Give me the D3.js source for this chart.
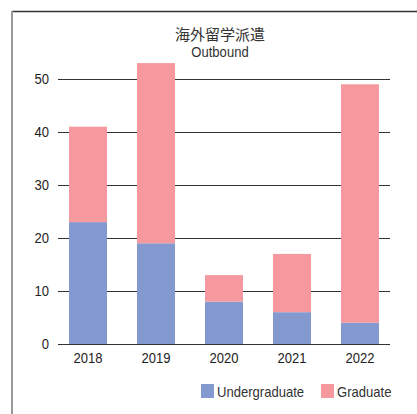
<!DOCTYPE html>
<html>
<head>
<meta charset="utf-8">
<script src="https://cdn.jsdelivr.net/npm/d3@7"></script>
<style>
  body { margin: 0; background: #fff; }
  svg text { font-family: "Liberation Sans", Arial, sans-serif; fill: #222; }
</style>
</head>
<body>
<div class="viz"></div>
<script>
const years = ["2018", "2019", "2020", "2021", "2022"];
const undergraduate = [23, 19, 8, 6, 4];
const graduate = [18, 34, 5, 11, 45];
const seriesNames = ["Undergraduate", "Graduate"];
const yTicks = [0, 10, 20, 30, 40, 50];
const colors = ["#8499cf", "#f5999e"];

const width = 417, height = 414;
const plotLeft = 58, plotRight = 390, plotTop = 79, plotBottom = 344;

const svg = d3.select(".viz").append("svg").attr("width", width).attr("height", height);

// frame
svg.append("line").attr("x1", 12).attr("x2", width).attr("y1", 11.5).attr("y2", 11.5)
  .attr("stroke", "#333").attr("stroke-width", 1.5);
svg.append("line").attr("x1", 12).attr("x2", 12).attr("y1", 11).attr("y2", height)
  .attr("stroke", "#999").attr("stroke-width", 2);

// title
svg.append("text").attr("x", 220).attr("y", 40).attr("text-anchor", "middle")
  .style("font-family", "'Noto Sans CJK JP', sans-serif").style("font-size", "15px").style("fill", "#333")
  .text("海外留学派遣");
svg.append("text").attr("class", "cond").attr("x", 220).attr("y", 57).attr("text-anchor", "middle")
  .style("font-size", "15px").style("fill", "#333")
  .text("Outbound");

const x = d3.scaleBand().domain(years).range([plotLeft, plotRight]).paddingInner(0.441).paddingOuter(0.162);
const y = d3.scaleLinear().domain([0, 50]).range([plotBottom, plotTop]);

// grid
svg.append("g").selectAll("line").data(yTicks).join("line")
  .attr("x1", plotLeft).attr("x2", plotRight)
  .attr("y1", d => Math.round(y(d)) + 0.5).attr("y2", d => Math.round(y(d)) + 0.5)
  .attr("stroke", "#333").attr("stroke-width", 1);

const table = years.map((year, i) => ({ year, Undergraduate: undergraduate[i], Graduate: graduate[i] }));
const stacked = d3.stack().keys(seriesNames)(table);

svg.append("g").selectAll("g").data(stacked).join("g")
  .attr("fill", (d, i) => colors[i])
  .selectAll("rect").data(d => d).join("rect")
  .attr("x", d => x(d.data.year))
  .attr("width", x.bandwidth())
  .attr("y", d => y(d[1]))
  .attr("height", d => y(d[0]) - y(d[1]));

// baseline on top of bars
svg.append("line").attr("x1", plotLeft).attr("x2", plotRight)
  .attr("y1", Math.round(y(0)) + 0.5).attr("y2", Math.round(y(0)) + 0.5)
  .attr("stroke", "#333");

// axes
const yAxis = svg.append("g").attr("transform", `translate(${plotLeft},0)`)
  .call(d3.axisLeft(y).tickValues(yTicks).tickSize(0).tickPadding(9));
yAxis.select(".domain").remove();
yAxis.selectAll("text").attr("class", "cond").style("font-size", "15px").style("font-family", null);

const xAxis = svg.append("g").attr("transform", `translate(0,${plotBottom})`)
  .call(d3.axisBottom(x).tickSize(0).tickPadding(8));
xAxis.select(".domain").remove();
xAxis.selectAll("text").attr("class", "cond").style("font-size", "15px");
svg.selectAll(".tick").attr("font-family", null);
svg.selectAll("g").filter(function () { return this.getAttribute("font-family"); })
  .attr("font-family", null).attr("font-size", null);

// legend
const legendX = [201, 321];
const legend = svg.append("g").selectAll("g").data(seriesNames).join("g")
  .attr("transform", (d, i) => `translate(${legendX[i]},384)`);
legend.append("rect").attr("width", 13).attr("height", 14).attr("fill", (d, i) => colors[i]);
legend.append("text").attr("class", "cond").attr("x", 16).attr("y", 13)
  .style("font-size", "15px").style("fill", "#333").text(d => d);

// condensed look: squeeze Liberation Sans glyphs
svg.selectAll("text.cond").each(function () {
  const w = this.getComputedTextLength();
  d3.select(this).attr("textLength", w * 0.87).attr("lengthAdjust", "spacingAndGlyphs");
});
</script>
</body>
</html>
